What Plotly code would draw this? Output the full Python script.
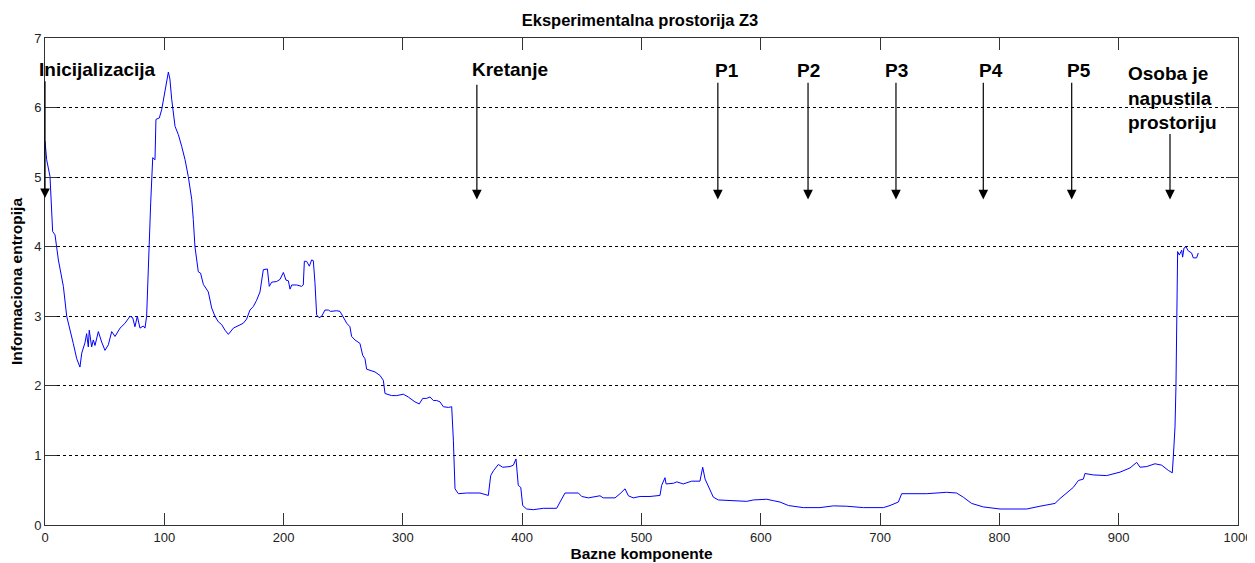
import plotly.graph_objects as go

# Series: information entropy vs. number of base components
x_vals = [0, 1.4, 4.2, 6.4, 8.4, 11.2, 15.4, 18.2, 23.7, 26.6, 29.3, 30.8, 33.5, 34.9, 36.3, 37.1,
          39.1, 40.5, 41.9, 44.7, 47.5, 50.3, 53.1, 55.9, 58.7, 62.9, 67.1, 71.2, 73.5, 75.4, 77.4,
          79.6, 82.4, 83.8, 85.2, 86.6, 88.6, 90.3, 92.2, 93.0, 95.8, 97.8, 99.7, 101.4, 103.4, 104.7,
          106.2, 109.0, 111.8, 114.6, 117.4, 120.1, 123.0, 124.3, 125.7, 128.5, 130.4, 132.7, 136.9,
          139.7, 142.5, 145.3, 148.1, 150.9, 153.7, 157.9, 162.0, 166.2, 169.0, 171.8, 174.6, 177.4,
          180.2, 183.0, 186.4, 188.0, 190.0, 194.2, 197.0, 199.8, 202.0, 204.0, 205.4, 206.8, 211.0,
          215.1, 216.5, 217.4, 219.3, 221.6, 223.5, 224.9, 226.3, 227.7, 229.7, 231.9, 234.7, 237.5,
          239.4, 244.5, 247.3, 250.0, 252.9, 255.6, 257.0, 259.8, 264.0, 266.3, 268.2, 269.6, 272.4,
          276.6, 280.8, 283.6, 285.0, 287.8, 290.6, 294.8, 297.6, 300.3, 304.5, 310.1, 313.7, 316.6,
          319.9, 322.7, 325.5, 328.3, 331.1, 333.9, 338.1, 340.9, 342.3, 343.7, 346.5, 353.5, 364.6,
          371.6, 373.6, 375.9, 380.0, 383.7, 389.8, 392.6, 394.8, 395.9, 396.7, 398.8, 400.4, 403.7,
          409.3, 417.7, 428.9, 431.7, 435.9, 447.1, 449.9, 455.5, 461.1, 465.2, 467.9, 477.8, 482.0,
          486.2, 489.0, 493.1, 498.8, 507.1, 515.5, 516.9, 519.7, 520.6, 526.8, 529.6, 535.0, 542.0,
          549.0, 551.3, 553.3, 557.4, 560.2, 564.4, 576.9, 588.2, 593.8, 604.9, 610.5, 616.1, 623.1,
          635.6, 649.6, 660.8, 672.0, 686.0, 702.8, 708.3, 715.3, 718.1, 739.1, 755.8, 764.1, 769.7,
          776.7, 786.5, 800.5, 811.7, 822.9, 834.0, 846.6, 850.8, 856.4, 861.9, 866.2, 870.4, 871.7,
          878.7, 889.9, 901.1, 909.5, 915.1, 917.9, 923.5, 930.4, 936.0, 941.6, 944.9, 945.8, 947.2,
          948.0, 948.6, 949.4, 950.8, 952.8, 953.6, 954.7, 956.4, 958.3, 961.1, 962.5, 965.3, 966.7]
y_vals = [5.52, 5.25, 5.01, 4.22, 4.17, 3.81, 3.43, 3.0, 2.61, 2.39, 2.27, 2.47, 2.62, 2.75, 2.56, 2.80,
          2.56, 2.66, 2.58, 2.78, 2.63, 2.51, 2.59, 2.78, 2.71, 2.83, 2.90, 3.0, 2.98, 2.85, 3.0,
          2.83, 2.86, 2.83, 3.0, 3.81, 4.63, 5.28, 5.25, 5.83, 5.85, 5.97, 6.16, 6.31, 6.51, 6.41,
          6.12, 5.73, 5.61, 5.44, 5.25, 5.01, 4.68, 4.39, 4.0, 3.64, 3.62, 3.46, 3.35,
          3.12, 3.0, 2.92, 2.88, 2.80, 2.74, 2.83, 2.87, 2.90, 2.96, 3.09, 3.14, 3.23,
          3.35, 3.67, 3.68, 3.43, 3.49, 3.50, 3.53, 3.63, 3.52, 3.51, 3.39, 3.45, 3.45,
          3.43, 3.45, 3.79, 3.79, 3.72, 3.81, 3.80, 3.48, 3.02, 2.98, 3.0, 3.09, 3.09,
          3.07, 3.08, 3.07, 2.99, 2.90, 2.85, 2.71, 2.66, 2.61, 2.44, 2.39, 2.24, 2.22,
          2.20, 2.15, 2.08, 1.89, 1.87, 1.86, 1.86, 1.87, 1.88, 1.84, 1.77, 1.74, 1.82,
          1.82, 1.84, 1.79, 1.79, 1.77, 1.70, 1.69, 1.70, 1.22, 0.52, 0.45, 0.46, 0.46,
          0.425, 0.71, 0.78, 0.87, 0.83, 0.84, 0.86, 0.95, 0.78, 0.57, 0.54, 0.28, 0.23,
          0.22, 0.24, 0.24, 0.33, 0.46, 0.46, 0.41, 0.39, 0.41, 0.42, 0.39, 0.39, 0.45,
          0.52, 0.42, 0.39, 0.41, 0.41, 0.425, 0.57, 0.68, 0.59, 0.60, 0.62, 0.59, 0.63,
          0.63, 0.83, 0.66, 0.50, 0.40, 0.36, 0.35, 0.34, 0.36, 0.37, 0.35, 0.33, 0.28,
          0.25, 0.25, 0.275, 0.27, 0.25, 0.25, 0.28, 0.33, 0.45, 0.45, 0.47, 0.46, 0.40,
          0.31, 0.26, 0.23, 0.225, 0.23, 0.27, 0.31, 0.38, 0.46, 0.54, 0.64, 0.66, 0.74,
          0.72, 0.71, 0.76, 0.82, 0.90, 0.83, 0.84, 0.88, 0.86, 0.785, 0.75, 0.98, 1.41,
          1.99, 3.0, 3.93, 3.88, 3.95, 3.85, 3.98, 4.0, 3.94, 3.91, 3.84, 3.84, 3.91]

# Event markers (arrows)
event_labels = ["Inicijalizacija", "Kretanje", "P1", "P2", "P3", "P4", "P5",
                "Osoba je<br>napustila<br>prostoriju"]
event_arrow_x = [0, 362, 564, 639.6, 713.3, 786.5, 860.6, 943]
event_arrow_tail_y = [6.4, 6.35, 6.38, 6.38, 6.38, 6.38, 6.38, 5.64]
event_arrow_tip_y = [4.70, 4.68, 4.68, 4.68, 4.68, 4.68, 4.68, 4.68]
event_text_x = [0, 389.6, 571.5, 640.2, 713.7, 793.2, 866.7, 906.1]
event_text_xshift = [-8, 0, 0, 0, 0, 0, 0, 0]
event_text_y = [6.55, 6.55, 6.54, 6.54, 6.54, 6.54, 6.54, 6.14]
event_text_anchor = ["left", "center", "center", "center", "center", "center", "center", "left"]

FONT = "Liberation Sans, Arial, sans-serif"

# The page body adds an 8px offset; the figure size/margins compensate for it.
W, H = 1247, 555

fig = go.Figure()
fig.add_trace(go.Scatter(x=x_vals, y=y_vals, mode="lines",
                         line=dict(color="#0000ff", width=1), showlegend=False,
                         hoverinfo="skip"))

annotations = []
for i in range(len(event_labels)):
    annotations.append(dict(
        x=event_arrow_x[i], y=event_arrow_tip_y[i], xref="x", yref="y",
        ax=event_arrow_x[i], ay=event_arrow_tail_y[i], axref="x", ayref="y",
        text="", showarrow=True, arrowhead=2, arrowsize=1.6, arrowwidth=1.2,
        arrowcolor="#000000", standoff=0, startstandoff=0))
    annotations.append(dict(
        x=event_text_x[i], y=event_text_y[i], xref="x", yref="y",
        xshift=event_text_xshift[i],
        text="<b>" + event_labels[i] + "</b>", showarrow=False,
        xanchor=event_text_anchor[i], yanchor="middle", align="left",
        font=dict(family=FONT, size=19, color="#000000")))

fig.update_layout(
    width=W, height=H,
    margin=dict(l=37, r=17, t=30, b=38),
    paper_bgcolor="white", plot_bgcolor="white",
    title=dict(text="<b>Eksperimentalna prostorija Z3</b>", x=(640 - 8) / W, xanchor="center",
               y=1 - 12.7 / H, yanchor="middle",
               font=dict(family=FONT, size=16.5, color="#000000")),
    annotations=annotations,
    xaxis=dict(range=[0, 1000], tick0=0, dtick=100, ticks="inside", ticklen=12,
               tickcolor="#333333", showgrid=False, zeroline=False, automargin=False,
               showline=True, linecolor="#333333", linewidth=1, mirror="ticks",
               tickfont=dict(family=FONT, size=13, color="#222222"),
               title=dict(text="<b>Bazne komponente</b>", standoff=2,
                          font=dict(family=FONT, size=15.5, color="#000000"))),
    yaxis=dict(range=[0, 7], tick0=0, dtick=1, ticks="inside", ticklen=12,
               tickcolor="#333333", showgrid=True, gridcolor="#000000", gridwidth=1,
               griddash="3px,3px", zeroline=False, automargin=False,
               showline=True, linecolor="#333333", linewidth=1, mirror="ticks",
               tickfont=dict(family=FONT, size=13, color="#222222"),
               title=dict(text="<b>Informaciona entropija</b>", standoff=9,
                          font=dict(family=FONT, size=15.5, color="#000000"))),
)

fig.write_html("out.html")
